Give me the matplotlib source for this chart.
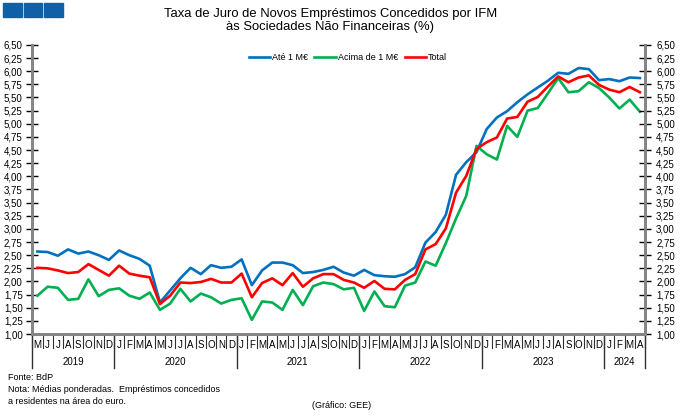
import matplotlib
matplotlib.use('Agg')
import matplotlib.pyplot as plt
import matplotlib.transforms as mtransforms
from matplotlib.patches import Rectangle
import numpy as np

plt.rcParams['font.family'] = ['Liberation Sans', 'DejaVu Sans']

# taxas mensais, maio 2019 - abril 2024 (%)
ate_1m = [2.57, 2.56, 2.49, 2.61, 2.53, 2.57, 2.50, 2.41,
          2.59, 2.50, 2.43, 2.30, 1.60, 1.83, 2.06, 2.26, 2.14, 2.31, 2.26, 2.28,
          2.42, 1.93, 2.21, 2.36, 2.36, 2.31, 2.16, 2.18, 2.22, 2.28, 2.17, 2.11,
          2.22, 2.12, 2.10, 2.09, 2.14, 2.27, 2.74, 2.94, 3.27, 4.03, 4.27, 4.46,
          4.90, 5.12, 5.24, 5.41, 5.56, 5.69, 5.82, 5.97, 5.95, 6.06, 6.04, 5.83,
          5.85, 5.81, 5.88, 5.87]
acima_1m = [1.73, 1.90, 1.88, 1.65, 1.67, 2.04, 1.72, 1.84,
            1.87, 1.73, 1.67, 1.79, 1.46, 1.58, 1.86, 1.62, 1.77, 1.70, 1.58, 1.65,
            1.68, 1.27, 1.62, 1.60, 1.46, 1.84, 1.55, 1.91, 1.98, 1.95, 1.85, 1.88,
            1.44, 1.81, 1.53, 1.51, 1.92, 1.98, 2.38, 2.30, 2.73, 3.20, 3.63, 4.58,
            4.42, 4.32, 4.96, 4.75, 5.25, 5.30, 5.58, 5.87, 5.60, 5.62, 5.79, 5.68,
            5.50, 5.29, 5.46, 5.23]
total = [2.26, 2.25, 2.21, 2.16, 2.18, 2.33, 2.22, 2.11,
         2.30, 2.15, 2.11, 2.08, 1.57, 1.73, 1.98, 1.97, 1.99, 2.05, 1.98, 1.98,
         2.15, 1.70, 1.97, 2.06, 1.93, 2.16, 1.90, 2.06, 2.14, 2.14, 2.03, 1.98,
         1.88, 2.01, 1.86, 1.85, 2.03, 2.14, 2.61, 2.71, 3.01, 3.69, 4.01, 4.52,
         4.65, 4.74, 5.10, 5.13, 5.42, 5.51, 5.71, 5.90, 5.79, 5.88, 5.92, 5.74,
         5.65, 5.60, 5.70, 5.60]

meses = list("MJJASOND") + list("JFMAMJJASOND") * 4 + list("JFMA")
anos = ['2019', '2020', '2021', '2022', '2023', '2024']
inicio_ano = [0, 8, 20, 32, 44, 56]

fig = plt.figure(figsize=(6.8, 4.16), dpi=100)

# logotipo
for i in range(3):
    fig.patches.append(Rectangle(((3 + i * 20.5) / 680, 1 - 17 / 416), 18.5 / 680, 14 / 416,
                                 transform=fig.transFigure, color='#1060A8'))

fig.text(0.486, 0.981, "Taxa de Juro de Novos Empréstimos Concedidos por IFM\nàs Sociedades Não Financeiras (%)",
         ha='center', va='top', fontsize=9.4, linespacing=1.1)

ax = fig.add_axes([0.0475, 0.197, 0.901, 0.695])
x = np.arange(len(total))
ax.plot(x, ate_1m, color='#0070C0', lw=1.9, label='Até 1 M€')
ax.plot(x, acima_1m, color='#00B050', lw=1.9, label='Acima de 1 M€')
ax.plot(x, total, color='#FF0000', lw=1.9, label='Total')

ax.set_xlim(-0.5, len(total) - 0.5)
ax.set_ylim(1, 6.5)
yt = np.arange(1, 6.51, 0.25)
ylab = [f"{v:.2f}".replace('.', ',') for v in yt]
ax.set_yticks(yt)
ax.set_yticklabels(ylab)
ax.tick_params(axis='y', direction='inout', length=8, width=1, labelsize=7, pad=3)

ax2 = ax.twinx()
ax2.set_ylim(1, 6.5)
ax2.set_yticks(yt)
ax2.set_yticklabels(ylab)
ax2.tick_params(axis='y', direction='inout', length=8, width=1, labelsize=7, pad=4)

for a in (ax, ax2):
    a.spines['top'].set_visible(False)
    for s in ('left', 'right', 'bottom'):
        a.spines[s].set_color('#858585')
        a.spines[s].set_linewidth(2)

ax.set_xticks(x)
ax.set_xticklabels(meses)
ax.tick_params(axis='x', length=0, labelsize=7, pad=4)

trans = mtransforms.blended_transform_factory(ax.transData, ax.transAxes)
for b in np.arange(-0.5, len(total), 1):
    ax.plot([b, b], [0, -0.048], transform=trans, color='#303030', lw=0.8, clip_on=False)

limites = [s - 0.5 for s in inicio_ano] + [len(total) - 0.5]
for b in limites:
    ax.plot([b, b], [0, -0.118], transform=trans, color='#303030', lw=1.0, clip_on=False)
for k, ano in enumerate(anos):
    c = (limites[k] + limites[k + 1]) / 2
    ax.text(c, -0.097, ano, transform=trans, ha='center', va='center', fontsize=7)

ax.legend(loc='upper center', bbox_to_anchor=(0.515, 1.0), ncol=3, frameon=False,
          fontsize=6.5, handlelength=2.4, handletextpad=0.2, columnspacing=0.7)

fig.text(8 / 680, 1 - 378 / 416, "Fonte: BdP", fontsize=6.5, va='center')
fig.text(8 / 680, 1 - 390 / 416, "Nota: Médias ponderadas.  Empréstimos concedidos", fontsize=6.5, va='center')
fig.text(8 / 680, 1 - 401 / 416, "a residentes na área do euro.", fontsize=6.5, va='center')
fig.text(342 / 680, 1 - 406 / 416, "(Gráfico: GEE)", fontsize=6.5, va='center', ha='center')

fig.savefig('out.png', dpi=100)
